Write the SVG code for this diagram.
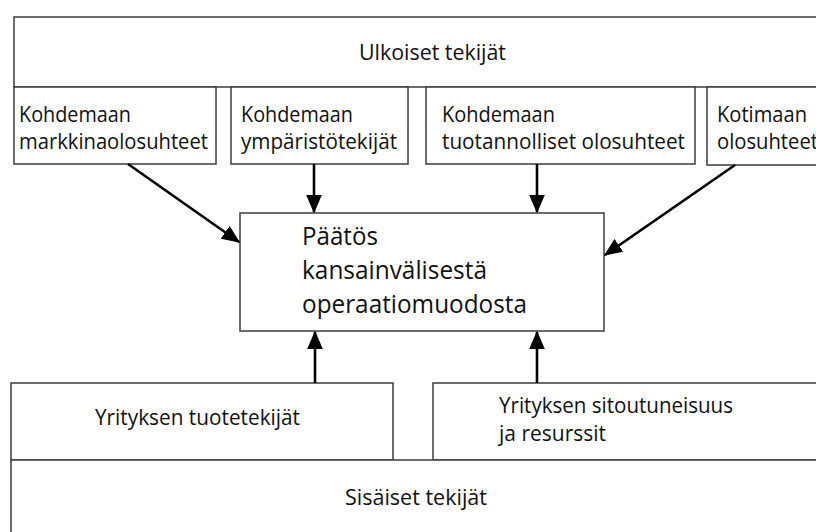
<svg xmlns="http://www.w3.org/2000/svg" width="816" height="532" viewBox="0 0 816 532">
<style>
.box{fill:#fff;stroke:#3c3c3c;stroke-width:1.5}
.t{font-family:"Open Sans","Noto Sans",sans-serif;fill:#111;font-size:21px}
.tc{font-family:"Open Sans","Noto Sans",sans-serif;fill:#111;font-size:26px}
.arr{stroke:#000;stroke-width:2.6;fill:none;marker-end:url(#ah)}
</style>
<defs>
<marker id="ah" markerWidth="7" markerHeight="6" refX="6.5" refY="3" orient="auto" markerUnits="strokeWidth">
<path d="M0,0 L7,3 L0,6 Z" fill="#000"/>
</marker>
</defs>
<rect width="816" height="532" fill="#fff"/>
<g id="ulkoiset">
<rect class="box" x="14" y="17" width="820" height="70"/>
<text class="t" x="359" y="60" textLength="147" lengthAdjust="spacingAndGlyphs">Ulkoiset tekijät</text>
</g>
<g id="markkina">
<rect class="box" x="14" y="87" width="202" height="77"/>
<text class="t" x="19" y="122" textLength="112" lengthAdjust="spacingAndGlyphs">Kohdemaan</text>
<text class="t" x="19" y="149" textLength="189" lengthAdjust="spacingAndGlyphs">markkinaolosuhteet</text>
</g>
<g id="ymparisto">
<rect class="box" x="231" y="87" width="177" height="77"/>
<text class="t" x="241" y="122" textLength="112" lengthAdjust="spacingAndGlyphs">Kohdemaan</text>
<text class="t" x="241" y="149" textLength="156" lengthAdjust="spacingAndGlyphs">ympäristötekijät</text>
</g>
<g id="tuotannolliset">
<rect class="box" x="426" y="87" width="269" height="77"/>
<text class="t" x="442" y="122" textLength="113" lengthAdjust="spacingAndGlyphs">Kohdemaan</text>
<text class="t" x="442" y="149" textLength="243" lengthAdjust="spacingAndGlyphs">tuotannolliset olosuhteet</text>
</g>
<g id="kotimaan">
<rect class="box" x="707" y="87" width="130" height="78"/>
<text class="t" x="717" y="122" textLength="90" lengthAdjust="spacingAndGlyphs">Kotimaan</text>
<text class="t" x="717" y="149" textLength="101" lengthAdjust="spacingAndGlyphs">olosuhteet</text>
</g>
<g id="paatos">
<rect class="box" x="240" y="213" width="364" height="118"/>
<text class="tc" x="302" y="245" textLength="76" lengthAdjust="spacingAndGlyphs">Päätös</text>
<text class="tc" x="302" y="279" textLength="185" lengthAdjust="spacingAndGlyphs">kansainvälisestä</text>
<text class="tc" x="302" y="313" textLength="225" lengthAdjust="spacingAndGlyphs">operaatiomuodosta</text>
</g>
<g id="tuotetekijat">
<rect class="box" x="11" y="383" width="382" height="77"/>
<text class="t" x="95" y="425" textLength="205" lengthAdjust="spacingAndGlyphs">Yrityksen tuotetekijät</text>
</g>
<g id="sitoutuneisuus">
<rect class="box" x="433" y="383" width="400" height="77"/>
<text class="t" x="499" y="413" textLength="234" lengthAdjust="spacingAndGlyphs">Yrityksen sitoutuneisuus</text>
<text class="t" x="499" y="441" textLength="107" lengthAdjust="spacingAndGlyphs">ja resurssit</text>
</g>
<g id="sisaiset">
<rect class="box" x="11" y="460" width="830" height="90"/>
<text class="t" x="345" y="505" textLength="142" lengthAdjust="spacingAndGlyphs">Sisäiset tekijät</text>
</g>
<g id="connectors">
<line class="arr" x1="128" y1="164" x2="239" y2="242"/>
<line class="arr" x1="314" y1="164" x2="314" y2="212"/>
<line class="arr" x1="537" y1="164" x2="537" y2="212"/>
<line class="arr" x1="735" y1="165" x2="605" y2="255"/>
<line class="arr" x1="315" y1="383" x2="315" y2="332"/>
<line class="arr" x1="537" y1="383" x2="537" y2="332"/>
</g>
</svg>
